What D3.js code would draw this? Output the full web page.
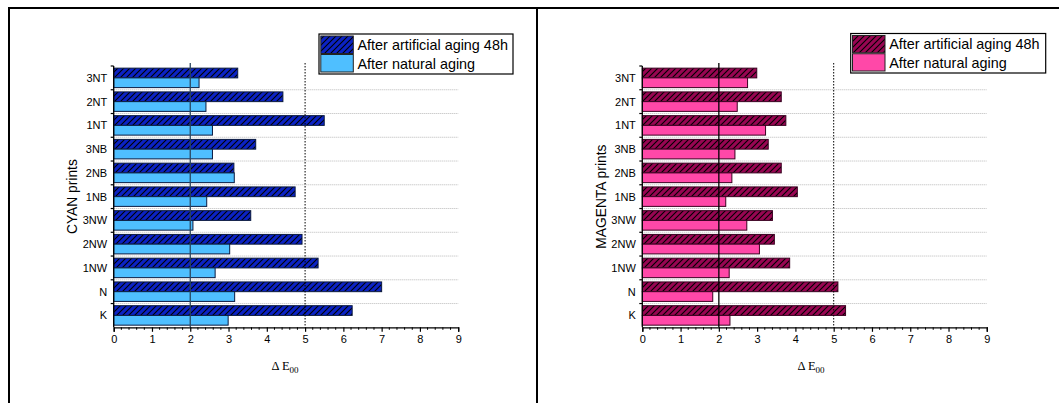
<!DOCTYPE html>
<html>
<head>
<meta charset="utf-8">
<script src="https://cdn.jsdelivr.net/npm/d3@7"></script>
<style>
  html, body { margin: 0; padding: 0; background: #fff; }
  svg { display: block; }
  text { font-family: "Liberation Sans", Arial, sans-serif; fill: #000; }
</style>
</head>
<body>
<svg id="chart" width="1059" height="403"></svg>
<script>
// ---- data ----
const categories = ["3NT", "2NT", "1NT", "3NB", "2NB", "1NB", "3NW", "2NW", "1NW", "N", "K"];
const seriesNames = ["After artificial aging 48h", "After natural aging"];
const cyanArtificial = [3.24, 4.42, 5.50, 3.71, 3.14, 4.74, 3.58, 4.92, 5.34, 7.00, 6.23];
const cyanNatural    = [2.23, 2.41, 2.58, 2.58, 3.15, 2.43, 2.07, 3.03, 2.65, 3.16, 2.99];
const magentaArtificial = [2.99, 3.63, 3.75, 3.29, 3.63, 4.05, 3.40, 3.45, 3.85, 5.11, 5.31];
const magentaNatural    = [2.75, 2.48, 3.22, 2.42, 2.34, 2.18, 2.73, 3.06, 2.27, 1.84, 2.29];
const xTicks = [0, 1, 2, 3, 4, 5, 6, 7, 8, 9];
const yTitles = ["CYAN prints", "MAGENTA prints"];
const refLines = [2, 5];

const svg = d3.select("#chart");
const defs = svg.append("defs");

function hatch(id, color) {
  const p = defs.append("pattern").attr("id", id)
    .attr("patternUnits", "userSpaceOnUse").attr("width", 6).attr("height", 6);
  p.append("rect").attr("width", 6).attr("height", 6).attr("fill", color);
  p.append("path").attr("d", "M0,6 L6,0 M-1.5,1.5 L1.5,-1.5 M4.5,7.5 L7.5,4.5")
    .attr("stroke", "#000").attr("stroke-width", 1.1);
}
hatch("hatchCyan", "#0b22c4");
hatch("hatchMag", "#980552");

// frame
svg.append("path").attr("d", "M9,403 L9,8 L1059,8 M537,8 L537,403")
  .attr("fill", "none").attr("stroke", "#000").attr("stroke-width", 2);

const panels = [
  { x0: 113.7, art: cyanArtificial, nat: cyanNatural, artFill: "url(#hatchCyan)", natFill: "#4fbfff",
    barStroke: "#0a1a40", refColor: "#2b4660", title: yTitles[0], titleX: 72,
    legend: { x: 319, y: 34, w: 194, h: 40 }, xTitleX: 285 },
  { x0: 642.3, art: magentaArtificial, nat: magentaNatural, artFill: "url(#hatchMag)", natFill: "#ff48a8",
    barStroke: "#3a0020", refColor: "#000", title: yTitles[1], titleX: 601.5,
    legend: { x: 850.7, y: 33.5, w: 195, h: 39.5 }, xTitleX: 811 }
];

const yTop = 66, yBottom = 327.3, plotW = 344.5;

panels.forEach(P => {
  const g = svg.append("g");
  const x = d3.scaleLinear().domain([0, 9]).range([P.x0, P.x0 + plotW]);
  const y = d3.scaleBand().domain(categories).range([yTop, yBottom]).paddingInner(0).paddingOuter(0);
  const sub = d3.scaleBand().domain(["art", "nat"]).range([0, y.bandwidth()]).paddingInner(0).paddingOuter(0.22);

  // gridlines at band boundaries (dotted gray)
  const bounds = categories.slice(1).map(c => y(c));
  g.selectAll("line.grid").data(bounds).join("line")
    .attr("x1", x(0)).attr("x2", x(9)).attr("y1", d => d).attr("y2", d => d)
    .attr("stroke", "#b8b8b8").attr("stroke-width", 1).attr("stroke-dasharray", "1,1");

  // bars
  const rows = categories.map((c, i) => ({ c, art: P.art[i], nat: P.nat[i] }));
  g.selectAll("rect.art").data(rows).join("rect")
    .attr("x", x(0)).attr("y", d => y(d.c) + sub("art"))
    .attr("width", d => x(d.art) - x(0)).attr("height", sub.bandwidth())
    .attr("fill", P.artFill).attr("stroke", P.barStroke).attr("stroke-width", 1);
  g.selectAll("rect.nat").data(rows).join("rect")
    .attr("x", x(0)).attr("y", d => y(d.c) + sub("nat"))
    .attr("width", d => x(d.nat) - x(0)).attr("height", sub.bandwidth())
    .attr("fill", P.natFill).attr("stroke", P.barStroke).attr("stroke-width", 1);

  // reference lines
  g.append("line").attr("x1", x(refLines[0])).attr("x2", x(refLines[0]))
    .attr("y1", 63).attr("y2", yBottom)
    .attr("stroke", P.refColor).attr("stroke-width", 1.3);
  g.append("line").attr("x1", x(refLines[1])).attr("x2", x(refLines[1]))
    .attr("y1", 63).attr("y2", yBottom)
    .attr("stroke", "#000").attr("stroke-width", 1).attr("stroke-dasharray", "1.5,1.5");

  // x axis
  const xAxisG = g.append("g").attr("transform", `translate(0,${yBottom})`);
  const minor = d3.range(0, 9.001, 0.2).filter(v => Math.abs(v - Math.round(v)) > 1e-6);
  xAxisG.selectAll("line.minor").data(minor).join("line")
    .attr("x1", d => x(d)).attr("x2", d => x(d)).attr("y1", 0).attr("y2", 2.5)
    .attr("stroke", "#000").attr("stroke-width", 1);
  const xAxis = d3.axisBottom(x).tickValues(xTicks).tickSize(4.5).tickPadding(3).tickFormat(d3.format("d"));
  xAxisG.call(xAxis);
  xAxisG.select(".domain").attr("stroke-width", 1.3);
  xAxisG.selectAll(".tick line").attr("stroke-width", 1.2);
  xAxisG.selectAll(".tick text").attr("font-size", "11px").attr("font-family", "Liberation Sans, Arial, sans-serif");

  // y axis
  const yAxisG = g.append("g").attr("transform", `translate(${x(0)},0)`);
  yAxisG.append("line").attr("x1", 0).attr("x2", 0).attr("y1", yTop).attr("y2", yBottom)
    .attr("stroke", "#000").attr("stroke-width", 1.3);
  const allBounds = [yTop].concat(bounds);
  yAxisG.selectAll("line.yt").data(allBounds).join("line")
    .attr("x1", -3).attr("x2", 0).attr("y1", d => d).attr("y2", d => d)
    .attr("stroke", "#000").attr("stroke-width", 1.2);
  yAxisG.selectAll("text.yl").data(categories).join("text")
    .attr("x", -6.5).attr("y", d => y(d) + y.bandwidth() / 2)
    .attr("text-anchor", "end").attr("dominant-baseline", "central")
    .attr("font-size", "11px").text(d => d);

  // y title
  g.append("text").attr("transform", `translate(${P.titleX},${(yTop + yBottom) / 2}) rotate(-90)`)
    .attr("text-anchor", "middle").attr("dominant-baseline", "central")
    .attr("font-size", "13.8px").text(P.title);

  // x title: Δ E00
  const xt = g.append("text").attr("x", P.xTitleX).attr("y", 370).attr("text-anchor", "middle")
    .attr("font-family", "Liberation Serif, 'Times New Roman', serif").attr("font-size", "12.5px")
    .style("font-family", "'Liberation Serif', 'Times New Roman', serif");
  xt.append("tspan").text("\u0394 E");
  xt.append("tspan").attr("font-size", "9px").attr("dy", 3).text("00");

  // legend
  const L = P.legend;
  const lg = g.append("g");
  lg.append("rect").attr("x", L.x).attr("y", L.y).attr("width", L.w).attr("height", L.h)
    .attr("fill", "#fff").attr("stroke", "#000").attr("stroke-width", 1.2);
  const fills = [P.artFill, P.natFill];
  const rowH = (L.h - 4) / 2;
  seriesNames.forEach((name, i) => {
    const ry = L.y + 2 + i * (rowH + 0.5);
    lg.append("rect").attr("x", L.x + 1.8).attr("y", ry).attr("width", 32.5).attr("height", rowH - 0.5)
      .attr("fill", fills[i]).attr("stroke", "#222").attr("stroke-width", 1);
    lg.append("text").attr("x", L.x + 38.5).attr("y", ry + rowH / 2)
      .attr("dominant-baseline", "central").attr("font-size", "14.4px").text(name);
  });
});
</script>
</body>
</html>
